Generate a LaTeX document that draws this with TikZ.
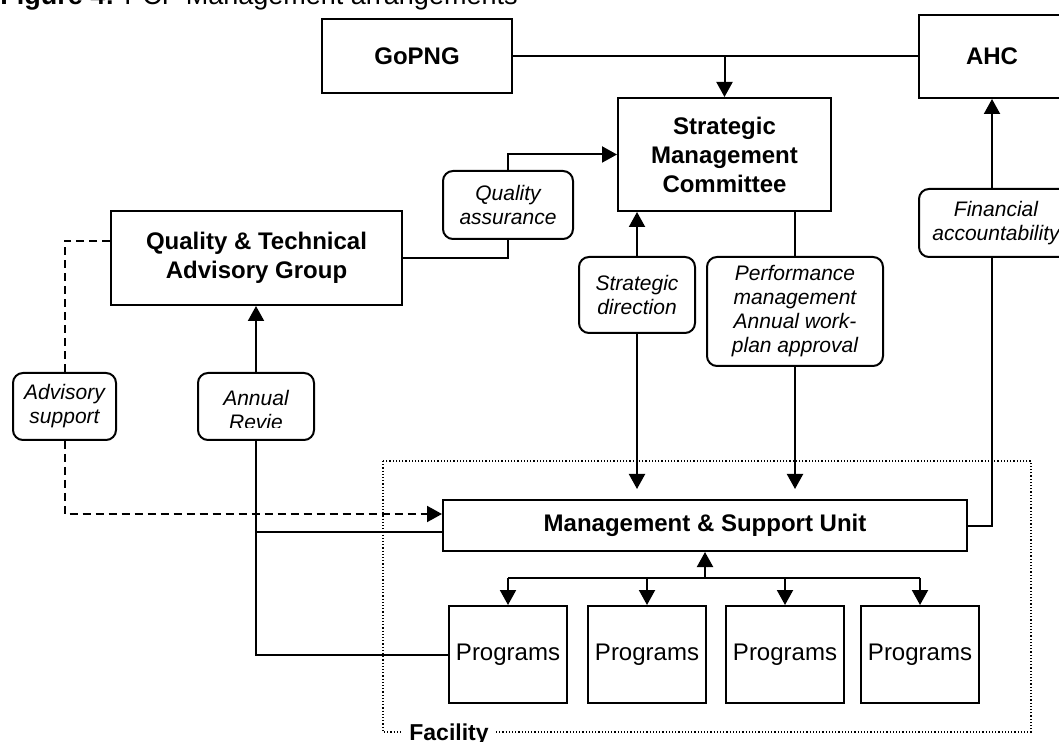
\documentclass[tikz,border=0pt]{standalone}
\usepackage{fontspec}
\setmainfont{Liberation Sans}
\usetikzlibrary{arrows.meta}

\begin{document}
\begin{tikzpicture}[x=0.5pt,y=-0.5pt,
	box/.style={draw,line width=1pt,align=center,inner sep=0pt,font=\fontsize{12}{14.5}\selectfont\bfseries},
	note/.style={draw,line width=1pt,rounded corners=5pt,align=center,inner sep=0pt,fill=white,font=\fontsize{10.5}{12}\selectfont\itshape},
	prog/.style={draw,line width=1pt,inner sep=0pt,minimum width=59pt,minimum height=48.5pt,font=\fontsize{12}{14.5}\selectfont},
	conn/.style={line width=1pt},
	arr/.style={conn,-{Triangle[length=7.5pt,width=8pt]}},
	adv/.style={dash pattern=on 4pt off 2.5pt},
	facil/.style={line width=0.6pt,dash pattern=on 0.6pt off 1pt}]
	\useasboundingbox (0,0) rectangle (1059,742);

	\node[anchor=base west,inner sep=0pt,font=\fontsize{13.5}{16}\selectfont] (title) at (0,5) {\textbf{Figure 4:} PCF Management arrangements};

	\node[box,minimum width=95pt,minimum height=37pt] (GoPNG) at (417,56) {GoPNG};
	\node[box,minimum width=73pt,minimum height=41.5pt] (AHC) at (992,56.5) {AHC};
	\node[box,minimum width=106.5pt,minimum height=56.5pt] (SMC) at (724.5,154.5) {Strategic\\Management\\Committee};
	\node[box,minimum width=145.5pt,minimum height=47pt] (QTAG) at (256.5,258) {Quality \& Technical\\Advisory Group};
	\node[box,minimum width=262pt,minimum height=25.5pt] (MSU) at (705,525.5) {Management \& Support Unit};

	\node[note,minimum width=65pt,minimum height=34pt] (QA) at (508,205) {Quality\\assurance};
	\node[note,minimum width=58pt,minimum height=38pt] (SD) at (637,295) {Strategic\\direction};
	\node[note,minimum width=88pt,minimum height=54.5pt] (Perf) at (795,311.5) {Performance\\management\\Annual work-\\plan approval};
	\node[note,minimum width=77pt,minimum height=34pt] (Fin) at (996,223) {Financial\\accountability};
	\node[note,minimum width=51.5pt,minimum height=33.5pt] (Adv) at (64.5,406.5) {Advisory\\support};
	\node[note,minimum width=58pt,minimum height=33.5pt] (Annual) at (256,406.5) {};
	\begin{scope}
		\clip (Annual.north west) rectangle ([yshift=6.5pt]Annual.south east);
		\node[note,draw=none,fill=none] (AnnualText) at ([yshift=-1.5pt]Annual.center) {Annual\\Revie};
	\end{scope}

	\foreach \x [count=\i] in {508,647,785,920}
		\node[prog] (Prog\i) at (\x,654.5) {Programs};

	\draw[conn] (GoPNG.east) -- (GoPNG.east -| AHC.west);
	\draw[arr] (GoPNG.east -| SMC.north) -- (SMC.north);
	\draw[arr] (QA.north) |- (SMC.west);
	\draw[conn] (QTAG.east) -| (QA.south);
	\draw[arr] (SD.north) -- (SD.north |- SMC.south);
	\draw[arr,shorten >=5pt] (SD.south) -- (SD.south |- MSU.north);
	\draw[conn] (Perf.north |- SMC.south) -- (Perf.north);
	\draw[arr,shorten >=5pt] (Perf.south) -- (Perf.south |- MSU.north);
	\draw[conn] (MSU.east) -| (AHC.south |- Fin.south);
	\draw[arr] (AHC.south |- Fin.north) -- (AHC.south);

	\coordinate (MSUadv) at ([yshift=5.75pt]MSU.west);
	\coordinate (MSUrev) at ([yshift=-3.25pt]MSU.west);
	\draw[conn,adv] ([yshift=-15.5pt]QTAG.north west) -| (Adv.north);
	\draw[arr,adv] (Adv.south) |- (MSUadv);
	\draw[arr] (Annual.north) -- (Annual.north |- QTAG.south);
	\draw[conn] (Annual.south) |- (Prog1.west);
	\draw[conn] (MSUrev -| Annual.south) -- (MSUrev);

	\coordinate (Bus) at (705,578);
	\draw[arr] (Bus) -- (MSU.south);
	\draw[conn] (Bus -| Prog1.north) -- (Bus -| Prog4.north);
	\foreach \i in {1,...,4}
		\draw[arr] (Bus -| Prog\i.north) -- (Prog\i.north);

	\draw[facil] (383,461) rectangle (1031,732);
	\node[anchor=base west,fill=white,inner xsep=3.5pt,inner ysep=1pt,font=\fontsize{11.5}{14}\selectfont\bfseries] (Facility) at (402,740) {Facility};
\end{tikzpicture}
\end{document}
